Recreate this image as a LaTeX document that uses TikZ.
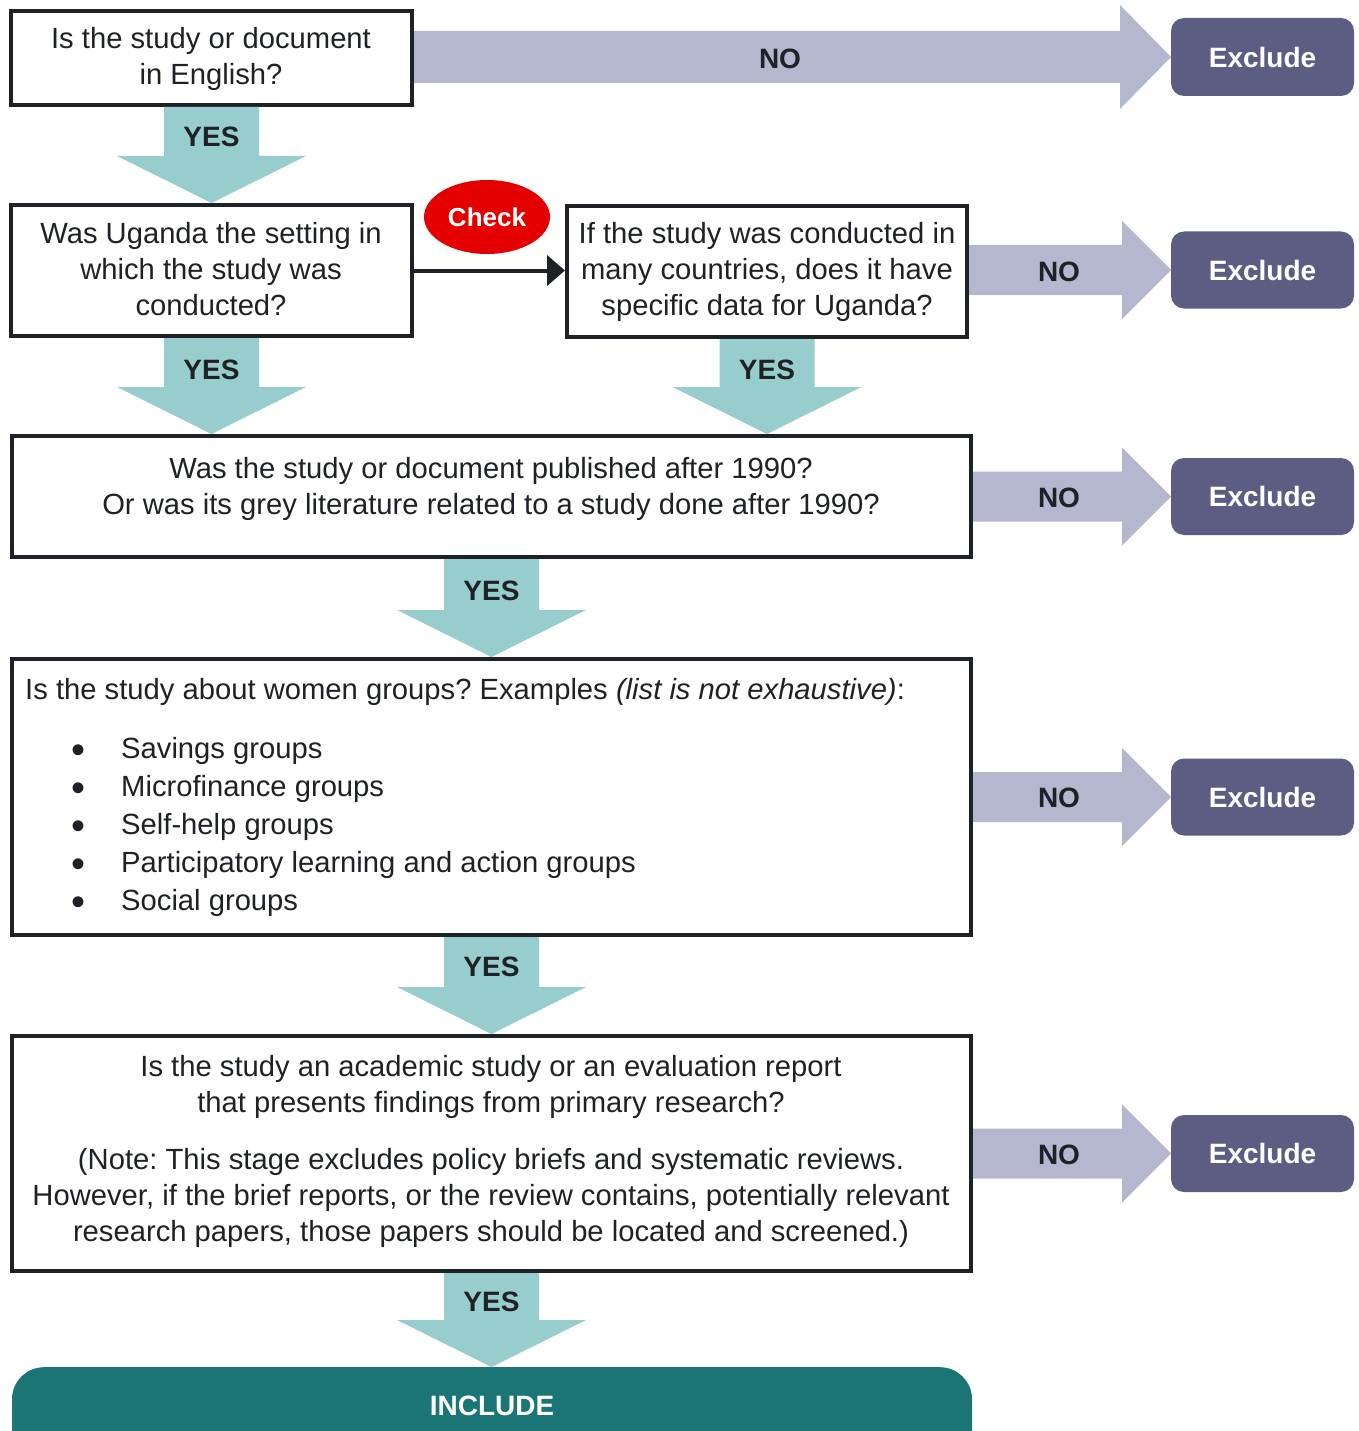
\documentclass[tikz,border=0pt]{standalone}
\usepackage{fontspec}
\setmainfont{Liberation Sans}
\usetikzlibrary{shapes.geometric,arrows.meta,calc}
\definecolor{nocol}{HTML}{B4B7CE}
\definecolor{excol}{HTML}{5B5E82}
\definecolor{yescol}{HTML}{97CDCC}
\definecolor{incol}{HTML}{1A7574}
\definecolor{chkcol}{HTML}{E50000}
\definecolor{ink}{HTML}{1E2125}
\frenchspacing
\newcommand\yesarr[2]{%
  \fill[yescol] let \p1=(#1), \p2=(#2) in
    (\x1-47.5pt,\y1) -- (\x1+47.5pt,\y1) -- (\x1+47.5pt,\y2+47pt) --
    (\x1+94.5pt,\y2+47pt) -- (\x2,\y2) -- (\x1-94.5pt,\y2+47pt) --
    (\x1-47.5pt,\y2+47pt) -- cycle;}
\newcommand\noarr[5]{%
  \fill[nocol] let \p1=(#1), \p2=(#2) in
    (\x1,\y2+#3) -- (\x2-#4,\y2+#3) -- (\x2-#4,\y2+#5) -- (\x2,\y2) --
    (\x2-#4,\y2-#5) -- (\x2-#4,\y2-#3) -- (\x1,\y2-#3) -- cycle;}
\begin{document}
\frenchspacing
\begin{tikzpicture}[x=1pt,y=-1pt,
  qbox/.style={draw=ink, line width=4pt, fill=white, rectangle, inner sep=0pt},
  qtext/.style={text=ink, font=\frenchspacing\fontsize{29.2}{36}\selectfont, align=center, inner sep=0pt},
  lab/.style={text=ink, font=\bfseries\fontsize{28}{34}\selectfont, inner sep=0pt},
  exbox/.style={fill=excol, rounded corners=13pt, minimum width=183pt, minimum height=77pt,
    inner sep=0pt, outer sep=0pt, text=white, font=\bfseries\fontsize{28}{34}\selectfont},
]
\useasboundingbox (0,0) rectangle (1358,1431);
\fill[white] (0,0) rectangle (1358,1431);

% question boxes
\node[qbox, minimum width=401pt, minimum height=94pt] (b1) at (211.5,58) {};
\node[qbox, minimum width=401pt, minimum height=131pt] (b2) at (211.5,270.5) {};
\node[qbox, minimum width=400pt, minimum height=131pt] (b3) at (767,271.5) {};
\node[qbox, minimum width=959pt, minimum height=121pt] (b4) at (491.5,496.5) {};
\node[qbox, minimum width=959pt, minimum height=276pt] (b5) at (491.5,797) {};
\node[qbox, minimum width=959pt, minimum height=235pt] (b6) at (491.5,1153.5) {};

% exclude boxes
\node[exbox, minimum height=78pt] (e1) at (1262.5,57) {Exclude};
\node[exbox] (e2) at (1262.5,270) {Exclude};
\node[exbox] (e3) at (1262.5,496.5) {Exclude};
\node[exbox] (e4) at (1262.5,797) {Exclude};
\node[exbox] (e5) at (1262.5,1153.5) {Exclude};

% include
\node[fill=incol, rounded corners=32pt, minimum width=960pt, minimum height=120pt,
  anchor=north, inner sep=0pt] (inc) at (492,1367) {};
\node[text=white, font=\bfseries\fontsize{28}{34}\selectfont, inner sep=0pt] (inctext) at (492,1406) {INCLUDE};

% check
\node[ellipse, fill=chkcol, minimum width=126pt, minimum height=74pt, inner sep=0pt,
  text=white, font=\bfseries\fontsize{26}{30}\selectfont] (chk) at (487,217) {Check};

% YES arrows
\yesarr{b1.south}{b2.north}
\yesarr{b2.south}{b2.south |- b4.north}
\yesarr{b3.south}{b3.south |- b4.north}
\yesarr{b4.south}{b5.north}
\yesarr{b5.south}{b6.north}
\yesarr{b6.south}{b6.south |- inc.north}

% NO arrows
\noarr{b1.east}{e1.west}{26pt}{51pt}{52pt}
\noarr{b3.east}{e2.west}{25pt}{49pt}{49pt}
\noarr{b4.east}{e3.west}{25pt}{49pt}{49pt}
\noarr{b5.east}{e4.west}{25pt}{49pt}{49pt}
\noarr{b6.east}{e5.west}{25pt}{49pt}{49pt}

% black connector
\draw[ink, line width=4pt, -{Triangle[length=18pt,width=30pt]}] (b2.east) -- (b2.east -| b3.west);

% labels
\node[lab] (y1) at (211.5,137) {YES};
\node[lab] (y2) at (211.5,370) {YES};
\node[lab] (y3) at (767,370) {YES};
\node[lab] (y4) at (491.5,591) {YES};
\node[lab] (y5) at (491.5,967) {YES};
\node[lab] (y6) at (491.5,1302) {YES};
\node[lab] (n1) at (780,59) {NO};
\node[lab] (n2) at (1059,272) {NO};
\node[lab] (n3) at (1059,498) {NO};
\node[lab] (n4) at (1059,798) {NO};
\node[lab] (n5) at (1059,1155) {NO};

% texts
\node[qtext] (t1) at (211,59) {Is the study or document\\in English?};
\node[qtext] (t2) at (211,269) {Was Uganda the setting in\\which the study was\\conducted?};
\node[qtext] (t3) at (767,272) {If the study was conducted in\\many countries, does it have\\specific data for Uganda?};
\node[qtext] (t4) at (491,489) {Was the study or document published after 1990?\\Or was its grey literature related to a study done after 1990?};
\node[qtext, anchor=west] (t5) at (25,692) {Is the study about women groups? Examples \textit{(list is not exhaustive)}:};
\node[text=ink, font=\fontsize{40}{38}\selectfont, align=center, inner sep=0pt] (bul) at (79,830)
  {•\\•\\•\\•\\•};
\node[text=ink, font=\fontsize{29.2}{38}\selectfont, align=left, inner sep=0pt, anchor=west] (lst) at (121,827)
  {Savings groups\\Microfinance groups\\Self-help groups\\Participatory learning and action groups\\Social groups};
\node[qtext] (t6) at (491,1151) {Is the study an academic study or an evaluation report\\that presents findings from primary research?\\[21pt]
(Note: This stage excludes policy briefs and systematic reviews.\\However, if the brief reports, or the review contains, potentially relevant\\research papers, those papers should be located and screened.)};
\end{tikzpicture}
\end{document}
